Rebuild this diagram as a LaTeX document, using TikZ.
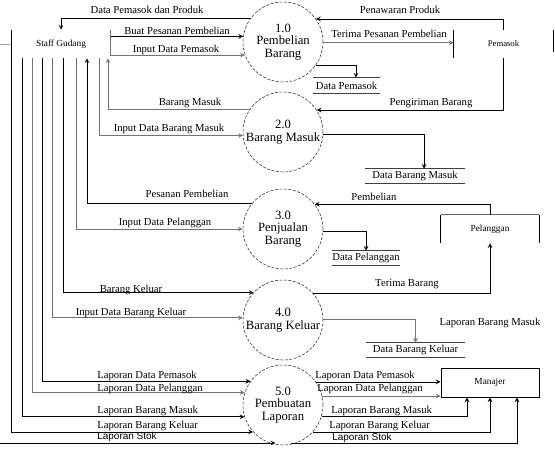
\documentclass[tikz,border=0pt]{standalone}
\usepackage{fontspec}
\setmainfont{Liberation Serif}
\newfontfamily\arialfont{Liberation Sans}
\usepackage{tikz}
\usetikzlibrary{
  positioning,
  arrows.meta
}

\begin{document}
\begin{tikzpicture}[x=0.75pt,y=-0.75pt,>=stealth,
  proses/.style={circle,draw,thin,black!85,text=black,dash pattern=on 2.2pt off 1.2pt,
    minimum size=60pt,inner sep=0pt,align=center,font=\fontsize{9.5}{9.5}\selectfont},
  entitas/.style={minimum width=73.5pt,minimum height=21pt,inner sep=0pt,font=\fontsize{7}{8}\selectfont},
  simpan/.style={minimum height=10.5pt,inner sep=0pt,font=\fontsize{8}{9}\selectfont},
  ket/.style={inner sep=0pt,font=\fontsize{8}{9.6}\selectfont},
  alir/.style={->,line width=0.6pt},
  alirabu/.style={alir,black!55},
  sisi/.style={line width=1pt},
  garis/.style={line width=0.8pt,black!75}]
  \useasboundingbox (0,0) rectangle (555,452);
  % 外部エンティティ
  \node[entitas] (staf) at (61,44) {Staff Gudang};
  \node[entitas,minimum width=74.25pt,font=\fontsize{6.5}{7}\selectfont] (pemasok) at (503.5,44) {Pemasok};
  \node[entitas] (pelanggan) at (490,229) {Pelanggan};
  \node[entitas,draw,line width=0.6pt,minimum height=21.75pt] (manajer) at (490,382.5) {Manajer};
  \draw[black!35] (0,44) -- (staf.west);
  \draw[sisi] (pemasok.north west) -- (pemasok.south west);
  \draw[sisi] (pemasok.north east) -- ++(0,22);
  \draw[black!60] (pelanggan.north west) -- (pelanggan.north east);
  \draw[sisi] (pelanggan.north west) -- (pelanggan.south west);
  \draw[sisi] (pelanggan.north east) -- (pelanggan.south east);
  % プロセス
  \node[proses] (p1) at (283,42) {1.0\\Pembelian\\Barang};
  \node[proses] (p2) at (283,132) {2.0\\Barang Masuk};
  \node[proses] (p3) at (283,229) {3.0\\Penjualan\\Barang};
  \node[proses] (p4) at (283,320) {4.0\\Barang Keluar};
  \node[proses] (p5) at (283,405) {5.0\\Pembuatan\\Laporan};
  % データストア
  \node[simpan,minimum width=50.25pt,minimum height=11.25pt] (dpemasok) at (346.5,85.5) {Data Pemasok};
  \node[simpan,minimum width=75pt] (dmasuk) at (415,176) {Data Barang Masuk};
  \node[simpan,minimum width=49.5pt] (dpelanggan) at (366,258) {Data Pelanggan};
  \node[simpan,minimum width=74.25pt] (dkeluar) at (415.5,350) {Data Barang Keluar};
  \draw[garis] (dpemasok.north west) -- (dpemasok.north east) (dpemasok.south west) -- (dpemasok.south east);
  \draw[garis] (dmasuk.north west) -- (dmasuk.north east) (dmasuk.south west) -- (dmasuk.south east);
  \draw[garis] (dpelanggan.north west) -- (dpelanggan.north east) (dpelanggan.south west) -- (dpelanggan.south east);
  \draw[garis] (dkeluar.north west) -- (dkeluar.north east) (dkeluar.south west) -- (dkeluar.south east);
  % 1.0 のデータフロー
  \draw[alir] (p1.144.9) -| (staf.north); %Data Pemasok dan Produk
  \draw[alir] (staf.north east) |- (p1.172.8); %Buat Pesanan Pembelian
  \draw[alirabu] (staf.north east) |- (p1.199); %Input Data Pemasok
  \draw[alir] (pemasok.north) |- (p1.35.1); %Penawaran Produk
  \draw[alirabu] (p1.-1.4) -- (p1.-1.4 -| pemasok.west); %Terima Pesanan Pembelian
  \draw[alir] (p1.-36.9) -| (356,0 |- dpemasok.north);
  % 2.0 のデータフロー
  \draw[alirabu] (p2.146.6) -| (108,0 |- staf.south); %Barang Masuk
  \draw[alir] (pemasok.south) |- (p2.33.4); %Pengiriman Barang
  \draw[alirabu] (99,0 |- staf.south) |- (p2.185.7); %Input Data Barang Masuk
  \draw[alir] (p2.-4.3) -| (424,0 |- dmasuk.north);
  % 3.0 のデータフロー
  \draw[alir] (p3.141.3) -| (87,0 |- staf.south); %Pesanan Pembelian
  \draw[alir] (pelanggan.north) |- (p3.38.7); %Pembelian
  \draw[alirabu] (76,0 |- staf.south) |- (p3.west); %Input Data Pelanggan
  \draw[alir] (p3.-4.3) -| (dpelanggan.north);
  % 4.0 のデータフロー
  \draw[alir] (63,0 |- staf.south) |- (p4.137.5); %Barang Keluar
  \draw[alir] (p4.42.5) -| (pelanggan.south); %Terima Barang
  \draw[alirabu] (52,0 |- staf.south) |- (p4.177.1); %Input Data Barang Keluar
  \draw[alirabu] (p4.1.4) -| (dkeluar.north);
  % 5.0 のデータフロー
  \coordinate (stok) at (0,443);
  \draw[alir] (42,0 |- staf.south) |- (p5.144.9);
  \draw[alirabu] (32,0 |- staf.south) |- (p5.162.5);
  \draw[alir] (22,0 |- staf.south) |- (p5.197.5);
  \draw[alir] (staf.north west) |- (p5.222.5);
  \draw[alir] (stok) -- (stok -| p5.259);
  \draw[alir] (p5.35.1) -- (p5.35.1 -| manajer.west);
  \draw[alirabu] (p5.13) -- (p5.13 -| manajer.west);
  \draw[alir] (p5.-17.5) -| (467,0 |- manajer.south);
  \draw[alir] (p5.-42.5) -| (manajer.south);
  \draw[alir] (stok -| p5.281) -| (517,0 |- manajer.south);
  % ラベル
  \node[ket] (kdpp) at (147,10) {Data Pemasok dan Produk};
  \node[ket] (kbpp) at (177,31) {Buat Pesanan Pembelian};
  \node[ket] (kidp) at (176,50) {Input Data Pemasok};
  \node[ket] (kbm) at (190,103) {Barang Masuk};
  \node[ket] (kpp) at (400,10) {Penawaran Produk};
  \node[ket] (ktpp) at (389,34) {Terima Pesanan Pembelian};
  \node[ket] (kpb) at (431,103) {Pengiriman Barang};
  \node[ket] (kidbm) at (169,129) {Input Data Barang Masuk};
  \node[ket] (kpsp) at (187,194) {Pesanan Pembelian};
  \node[ket] (kpbl) at (374,197) {Pembelian};
  \node[ket] (kidpl) at (165,223) {Input Data Pelanggan};
  \node[ket] (kbk) at (131,290) {Barang Keluar};
  \node[ket] (ktb) at (407,284) {Terima Barang};
  \node[ket] (kidbk) at (131,313) {Input Data Barang Keluar};
  \node[ket] (klbmx) at (490,323) {Laporan Barang Masuk};
  % ラベル（5.0）
  \node[ket,anchor=west] (kl1) at (97,376) {Laporan Data Pemasok};
  \node[ket,anchor=west] (kl2) at (97,389) {Laporan Data Pelanggan};
  \node[ket,anchor=west] (kl3) at (97,411) {Laporan Barang Masuk};
  \node[ket,anchor=west] (kl4) at (97,426) {Laporan Barang Keluar};
  \node[ket,anchor=west,font=\arialfont\fontsize{7.5}{9}\selectfont] (kl5) at (97,437) {Laporan Stok};
  \node[ket,anchor=west] (kr1) at (315,376) {Laporan Data Pemasok};
  \node[ket,anchor=west] (kr2) at (317,389) {Laporan Data Pelanggan};
  \node[ket,anchor=west] (kr3) at (331,411) {Laporan Barang Masuk};
  \node[ket,anchor=west] (kr4) at (329,426) {Laporan Barang Keluar};
  \node[ket,anchor=west,font=\arialfont\fontsize{7.5}{9}\selectfont] (kr5) at (332,438) {Laporan Stok};
\end{tikzpicture}
\end{document}
